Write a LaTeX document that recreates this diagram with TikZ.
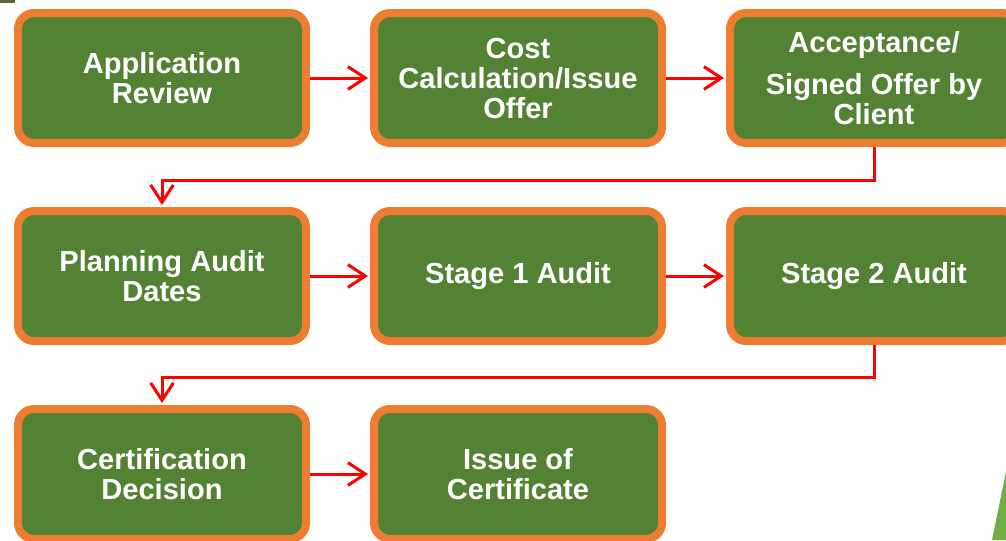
\documentclass[tikz,border=0pt]{standalone}
\usepackage{fontspec}
\setmainfont{Liberation Sans}
\usetikzlibrary{positioning, arrows.meta}

\definecolor{boxgreen}{HTML}{548235}
\definecolor{boxorange}{HTML}{ED7D31}
\definecolor{leafgreen}{HTML}{70AD47}
\definecolor{olivepatch}{HTML}{556B2F}

\begin{document}
\begin{tikzpicture}[
    node distance=45pt,
    % Styles
    stepbox/.style={
        draw=boxorange,
        line width=6pt,
        rectangle,
        rounded corners=12pt,
        fill=boxgreen,
        minimum width=216pt,
        minimum height=97.5pt,
        align=center,
        text=white,
        font=\fontsize{21.8}{22.5}\selectfont\bfseries
    },
    flow/.style={-{Straight Barb[length=13pt,width=17pt]}, red, line width=2.25pt, shorten >=1.5pt}
]

    % --- Page frame ---
    \useasboundingbox (0,0) rectangle (754.5pt,-405pt);
    \clip (0,0) rectangle (754.5pt,-405pt);

    % --- Corner decorations ---
    \fill[olivepatch] (0,0) rectangle (11pt,-2pt);
    \fill[leafgreen] (754.5pt,-354pt) -- (744pt,-405pt) -- (754.5pt,-405pt) -- cycle;

    % --- ROW 1 ---
    \node[stepbox] (app) at (121.5pt,-58.5pt) {Application\\Review};
    \node[stepbox, right=of app] (cost) {Cost\\Calculation/Issue\\Offer};
    \node[stepbox, right=of cost] (accept) {Acceptance/\\[9pt]Signed Offer by\\Client};

    % --- ROW 2 ---
    \node[stepbox, below=of app] (plan) {Planning Audit\\Dates};
    \node[stepbox, right=of plan] (st1) {Stage 1 Audit};
    \node[stepbox, right=of st1] (st2) {Stage 2 Audit};

    % --- ROW 3 ---
    \node[stepbox, below=of plan] (dec) {Certification\\Decision};
    \node[stepbox, right=of dec] (cert) {Issue of\\Certificate};

    % --- ARROWS ---
    \draw[flow] (app.east) -- (cost.west);
    \draw[flow] (cost.east) -- (accept.west);
    \draw[flow] (accept.south) -- ++(0,-25pt) -| (plan.north);

    \draw[flow] (plan.east) -- (st1.west);
    \draw[flow] (st1.east) -- (st2.west);
    \draw[flow] (st2.south) -- ++(0,-24pt) -| (dec.north);

    \draw[flow] (dec.east) -- (cert.west);

\end{tikzpicture}
\end{document}
